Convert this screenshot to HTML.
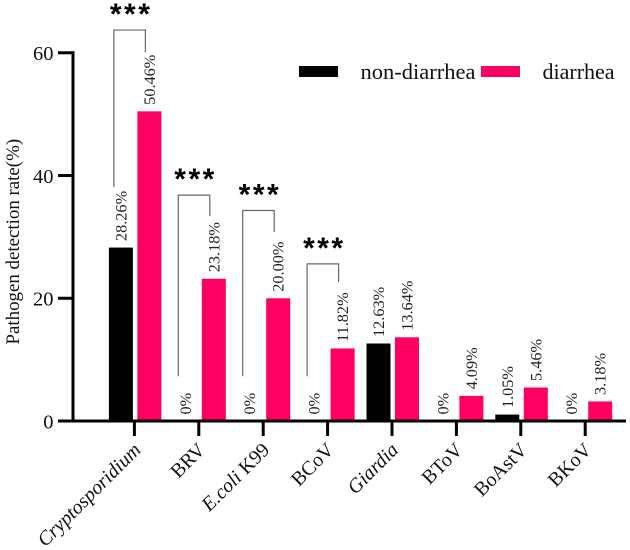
<!DOCTYPE html>
<html>
<head>
<meta charset="utf-8">
<title>Pathogen detection rate</title>
<style>
html,body{margin:0;padding:0;background:#fff;}
svg{display:block;font-family:"Liberation Serif",serif;filter:blur(0.35px);}
</style>
</head>
<body>
<svg id="chart" width="630" height="550" viewBox="0 0 630 550" xmlns="http://www.w3.org/2000/svg"></svg>
<script>
const categories = ['Cryptosporidium', 'BRV', 'E.coli K99', 'BCoV', 'Giardia', 'BToV', 'BoAstV', 'BKoV'];
const italicParts = ['Cryptosporidium', '', 'E.coli', '', 'Giardia', '', '', ''];
const nonDiarrhea = [28.26, 0, 0, 0, 12.63, 0, 1.05, 0];
const diarrhea = [50.46, 23.18, 20.00, 11.82, 13.64, 4.09, 5.46, 3.18];
const nonDiarrheaLabels = ['28.26%', '0%', '0%', '0%', '12.63%', '0%', '1.05%', '0%'];
const diarrheaLabels = ['50.46%', '23.18%', '20.00%', '11.82%', '13.64%', '4.09%', '5.46%', '3.18%'];
const yTicks = [0, 20, 40, 60];
const sigCategories = [0, 1, 2, 3];
const sigTop = [63.7, 36.8, 34.3, 25.6];
const sigLeftEnd = [38.1, 7.3, 7.3, 7.3];
const sigRightEnd = [60.1, 33.4, 30.8, 22.6];

const svg = document.getElementById('chart');
const NS = 'http://www.w3.org/2000/svg';
const PINK = '#ff0062';
const Y0 = 421, YPX = 6.137;
const X0 = 134.4, XSTEP = 64.4;
const BAR_W = 24;
function yScale(v) { return Y0 - v * YPX; }
function xScale(i) { return X0 + i * XSTEP; }
function make(tag, attrs, text) {
  const el = document.createElementNS(NS, tag);
  for (const k in attrs) el.setAttribute(k, attrs[k]);
  if (text !== undefined) el.textContent = text;
  return el;
}

// bars and value labels
categories.forEach(function (c, i) {
  const bx = xScale(i) - 13.5;
  const px = xScale(i) + 15;
  if (nonDiarrhea[i] > 0) {
    const b = make('rect', { x: bx - BAR_W / 2, y: yScale(nonDiarrhea[i]), width: BAR_W, height: Y0 - yScale(nonDiarrhea[i]), fill: '#000' });
    
    
    svg.appendChild(b);
  }
  const p = make('rect', { x: px - BAR_W / 2, y: yScale(diarrhea[i]), width: BAR_W, height: Y0 - yScale(diarrhea[i]), fill: PINK });
  
  
  svg.appendChild(p);

  const bl = make('text', { transform: 'translate(' + (bx + 5.5) + ',' + (yScale(nonDiarrhea[i]) - 6.5) + ') rotate(-90)', 'font-size': 16.3, fill: '#222' }, nonDiarrheaLabels[i]);
  
  
  svg.appendChild(bl);
  const pl = make('text', { transform: 'translate(' + (px + 5.5) + ',' + (yScale(diarrhea[i]) - 6.5) + ') rotate(-90)', 'font-size': 16.3, fill: '#222' }, diarrheaLabels[i]);
  
  
  svg.appendChild(pl);
});

// axes
const yAxis = make('line', { x1: 73, x2: 73, y1: yScale(60) - 1.5, y2: Y0 + 1.5, stroke: '#000', 'stroke-width': 3 });


svg.appendChild(yAxis);
const xAxis = make('line', { x1: 58, x2: 626, y1: Y0, y2: Y0, stroke: '#000', 'stroke-width': 3 });


svg.appendChild(xAxis);

yTicks.forEach(function (t) {
  const tick = make('line', { x1: 58, x2: 73, y1: yScale(t), y2: yScale(t), stroke: '#000', 'stroke-width': 3 });
  
  
  svg.appendChild(tick);
  const lab = make('text', { x: 53.5, y: yScale(t) + 7.3, 'text-anchor': 'end', 'font-size': 20.5, fill: '#111' }, String(t));
  
  
  svg.appendChild(lab);
});

categories.forEach(function (c, i) {
  const tick = make('line', { x1: xScale(i), x2: xScale(i), y1: Y0, y2: 436, stroke: '#000', 'stroke-width': 3 });
  
  
  svg.appendChild(tick);
  const lab = make('text', { transform: 'translate(' + (xScale(i) + 7.5) + ',451) rotate(-45)', 'text-anchor': 'end', 'font-size': 20, fill: '#111' });
  
  
  const it = italicParts[i];
  if (it) {
    const s = make('tspan', { 'font-style': 'italic' }, it);
    lab.appendChild(s);
  }
  const rest = c.slice(it.length);
  if (rest) lab.appendChild(make('tspan', {}, rest));
  svg.appendChild(lab);
});

// significance brackets
sigCategories.forEach(function (ci, k) {
  const l = xScale(ci) - 20.5;
  const r = xScale(ci) + 11;
  const br = make('path', {
    d: 'M' + l + ' ' + yScale(sigLeftEnd[k]) + 'V' + yScale(sigTop[k]) + 'H' + r + 'V' + yScale(sigRightEnd[k]),
    fill: 'none', stroke: '#666', 'stroke-width': 1.2
  });
  
  
  svg.appendChild(br);
  const st = make('text', { x: (l + r) / 2 + 1.5, y: yScale(sigTop[k]) - 6, 'text-anchor': 'middle', 'font-size': 30, 'font-weight': 'bold', 'font-family': '"Liberation Sans",sans-serif', 'letter-spacing': '2.5', fill: '#000' }, '***');
  
  
  svg.appendChild(st);
});
</script>
<script>
(function () {
  const s = document.getElementById('chart');
  s.insertAdjacentHTML('beforeend',
    '<text transform="translate(19,344.5) rotate(-90)" font-size="18.9" fill="#111">Pathogen detection rate(%)</text>' +
    '<rect x="299" y="66" width="39" height="11" fill="#000"></rect>' +
    '<text x="360.5" y="79" font-size="22.5" fill="#111">non-diarrhea</text>' +
    '<rect x="481" y="66" width="39" height="11" fill="#ff0062"></rect>' +
    '<text x="542.5" y="79" font-size="22" fill="#111">diarrhea</text>');
})();
</script>
</body>
</html>
